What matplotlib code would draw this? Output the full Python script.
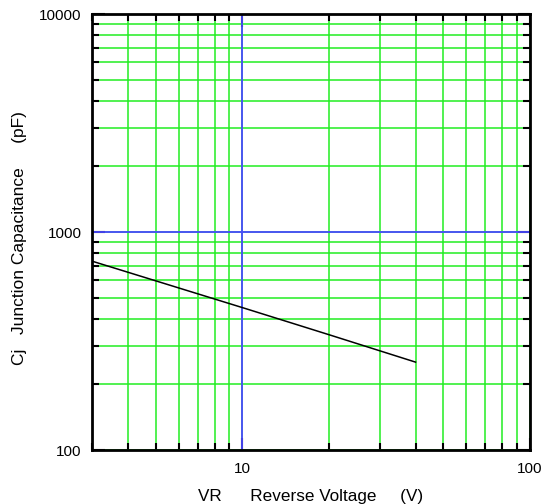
import matplotlib
matplotlib.use("Agg")
import matplotlib.pyplot as plt
from matplotlib.ticker import LogLocator, NullFormatter, FixedLocator, FixedFormatter

plt.rcParams['font.family'] = ['Liberation Sans', 'DejaVu Sans']

# Data
voltage = [3, 10, 20, 40]          # V
capacitance = [735, 450, 338, 253]  # pF

x_major = [10, 100]
x_major_labels = ["10", "100"]
y_major = [100, 1000, 10000]
y_major_labels = ["100", "1000", "10000"]

fig = plt.figure(figsize=(5.47, 5.04), dpi=100)
ax = fig.add_axes([92/547, 1 - 450/504, (530-92)/547, (450-14)/504])
ax.set_xscale('log')
ax.set_yscale('log')
ax.set_xlim(3, 100)
ax.set_ylim(100, 10000)

green = '#22ee22'
blue = '#4a4aff'

ax.xaxis.set_major_locator(FixedLocator(x_major))
ax.xaxis.set_major_formatter(FixedFormatter(x_major_labels))
ax.yaxis.set_major_locator(FixedLocator(y_major))
ax.yaxis.set_major_formatter(FixedFormatter(y_major_labels))
ax.xaxis.set_minor_locator(LogLocator(base=10, subs=range(2, 10)))
ax.yaxis.set_minor_locator(LogLocator(base=10, subs=range(2, 10)))
ax.xaxis.set_minor_formatter(NullFormatter())
ax.yaxis.set_minor_formatter(NullFormatter())

ax.grid(True, which='both', color=green, linewidth=1.1)
ax.set_axisbelow(True)
ax.axvline(10, color=blue, linewidth=1.3, zorder=1.5)
ax.axhline(1000, color=blue, linewidth=1.3, zorder=1.5)

ax.plot(voltage, capacitance, color='black', linewidth=1.1, zorder=3)

for s in ax.spines.values():
    s.set_linewidth(2)
    s.set_zorder(4)

ax.tick_params(which='both', direction='in', top=True, right=True, width=1.5,
               labelsize=11, colors='black')
ax.tick_params(which='major', length=9)
ax.tick_params(axis='y', which='major', pad=7.5)
ax.tick_params(axis='x', which='major', pad=8.5)
ax.tick_params(which='minor', length=5)

ax.set_xlabel("VR      Reverse Voltage     (V)", fontsize=12.3)
ax.xaxis.set_label_coords(0.5, -(501 - 450) / 436, transform=ax.transAxes)
ax.xaxis.label.set_va('baseline')

ax.set_ylabel("Cj   Junction Capacitance     (pF)", fontsize=12.5)
ax.yaxis.set_label_coords((27 - 92) / 438, (450 - 238.5) / 436)

fig.savefig("out.png", dpi=100)
